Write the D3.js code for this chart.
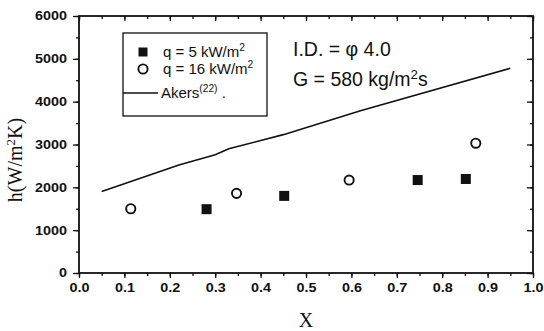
<!DOCTYPE html>
<html><head><meta charset="utf-8">
<script src="https://cdn.jsdelivr.net/npm/d3@7"></script>
<style>body{margin:0;background:#fff}svg{display:block}</style>
</head><body>
<svg id="c" width="544" height="331"></svg>
<script>
// data
const q5X = [0.281, 0.452, 0.746, 0.852];
const q5Y = [1490, 1800, 2170, 2195];
const q16X = [0.114, 0.347, 0.595, 0.874];
const q16Y = [1500, 1860, 2170, 3030];
const akersX = [0.05, 0.22, 0.30, 0.33, 0.45, 0.62, 0.95];
const akersY = [1900, 2520, 2760, 2900, 3230, 3790, 4780];
const xTicks = [0, 0.1, 0.2, 0.3, 0.4, 0.5, 0.6, 0.7, 0.8, 0.9, 1.0];
const yTicks = [0, 1000, 2000, 3000, 4000, 5000, 6000];

const svg = d3.select("#c");
const L = 79, R = 533, T = 16, B = 273;
const x = d3.scaleLinear().domain([0, 1]).range([L, R]);
const y = d3.scaleLinear().domain([0, 6000]).range([B, T]);
const ink = "#111";
const sans = "'Liberation Sans', Arial, sans-serif";
const serif = "'Liberation Serif', 'Times New Roman', serif";

const xMinor = d3.range(0, 1.0001, 0.05);
const yMinor = d3.range(0, 6001, 500);

// bottom axis (outward)
svg.append("g").attr("transform", `translate(0,${B})`)
  .call(d3.axisBottom(x).tickValues(xMinor).tickSize(3).tickFormat(""));
const gb2 = svg.append("g").attr("transform", `translate(0,${B})`)
  .call(d3.axisBottom(x).tickValues(xTicks).tickSize(5).tickPadding(5).tickFormat(d3.format(".1f")));
// left axis (outward)
svg.append("g").attr("transform", `translate(${L},0)`)
  .call(d3.axisLeft(y).tickValues(yMinor).tickSize(3).tickFormat(""));
const gl2 = svg.append("g").attr("transform", `translate(${L},0)`)
  .call(d3.axisLeft(y).tickValues(yTicks).tickSize(6).tickPadding(4).tickFormat(d3.format("d")));
// top axis (inward)
svg.append("g").attr("transform", `translate(0,${T})`)
  .call(d3.axisBottom(x).tickValues(xMinor).tickSize(3).tickFormat(""));
svg.append("g").attr("transform", `translate(0,${T})`)
  .call(d3.axisBottom(x).tickValues(xTicks).tickSize(5).tickFormat(""));
// right axis (inward)
svg.append("g").attr("transform", `translate(${R},0)`)
  .call(d3.axisLeft(y).tickValues(yMinor).tickSize(3).tickFormat(""));
svg.append("g").attr("transform", `translate(${R},0)`)
  .call(d3.axisLeft(y).tickValues(yTicks).tickSize(6).tickFormat(""));

svg.selectAll(".domain").remove();
svg.selectAll(".tick line").attr("stroke", ink).attr("stroke-width", 1.3);
svg.selectAll(".tick text").attr("fill", ink).style("font-family", sans)
  .style("font-size", "12px").style("font-weight", "bold")
  .attr("transform", "scale(1.2,1)");

// frame
svg.append("rect").attr("x", L).attr("y", T).attr("width", R - L).attr("height", B - T)
  .attr("fill", "none").attr("stroke", ink).attr("stroke-width", 1.8);

// Akers line
const akers = akersX.map((d, i) => [d, akersY[i]]);
svg.append("path").datum(akers)
  .attr("d", d3.line().x(d => x(d[0])).y(d => y(d[1])))
  .attr("fill", "none").attr("stroke", ink).attr("stroke-width", 1.6);

// squares
const sq = 10;
svg.selectAll(".sq").data(q5X.map((d, i) => [d, q5Y[i]])).enter().append("rect")
  .attr("x", d => x(d[0]) - sq / 2).attr("y", d => y(d[1]) - sq / 2)
  .attr("width", sq).attr("height", sq).attr("fill", ink);
// circles
svg.selectAll(".ci").data(q16X.map((d, i) => [d, q16Y[i]])).enter().append("circle")
  .attr("cx", d => x(d[0])).attr("cy", d => y(d[1])).attr("r", 4.6)
  .attr("fill", "#fff").attr("stroke", ink).attr("stroke-width", 1.9);

// legend
const lg = svg.append("g");
lg.append("rect").attr("x", 123).attr("y", 33).attr("width", 144).attr("height", 83)
  .attr("fill", "none").attr("stroke", ink).attr("stroke-width", 1.3);
lg.append("rect").attr("x", 138.5).attr("y", 47.5).attr("width", 9).attr("height", 9).attr("fill", ink);
lg.append("circle").attr("cx", 143).attr("cy", 69).attr("r", 4.6).attr("fill", "#fff").attr("stroke", ink).attr("stroke-width", 1.9);
lg.append("line").attr("x1", 123).attr("x2", 158).attr("y1", 93).attr("y2", 93).attr("stroke", ink).attr("stroke-width", 1.4);

function supText(g, xp, yp, parts, size, family) {
  const t = g.append("text").attr("x", xp).attr("y", yp).attr("fill", ink)
    .style("font-family", family).style("font-size", size + "px");
  parts.forEach(p => {
    const ts = t.append("tspan").text(p[0]);
    if (p[1]) ts.attr("dy", -size * 0.38).style("font-size", (size * 0.68) + "px");
    if (p[2]) ts.attr("dy", size * 0.38);
  });
  return t;
}
supText(lg, 163, 57, [["q = 5 kW/m"], ["2", true]], 15, sans);
supText(lg, 163, 74, [["q = 16 kW/m"], ["2", true]], 15, sans);
supText(lg, 161, 98, [["Akers"], ["(22)", true], [" .", false, true]], 15, sans);

// annotations
supText(svg, 293, 56, [["I.D. = φ 4.0"]], 19.5, sans);
supText(svg, 293, 86, [["G = 580 kg/m"], ["2", true], ["s", false, true]], 19.5, sans);

// axis titles
svg.append("text").attr("x", 306).attr("y", 327).attr("text-anchor", "middle")
  .attr("fill", ink).style("font-family", serif).style("font-size", "20px").text("X");
const yl = svg.append("text").attr("transform", "translate(22,160) rotate(-90)")
  .attr("text-anchor", "middle").attr("fill", ink)
  .style("font-family", serif).style("font-size", "20px");
yl.append("tspan").text("h(W/m");
yl.append("tspan").text("2").attr("dy", -7).style("font-size", "13px");
yl.append("tspan").text("K)").attr("dy", 7);
</script>
</body></html>
